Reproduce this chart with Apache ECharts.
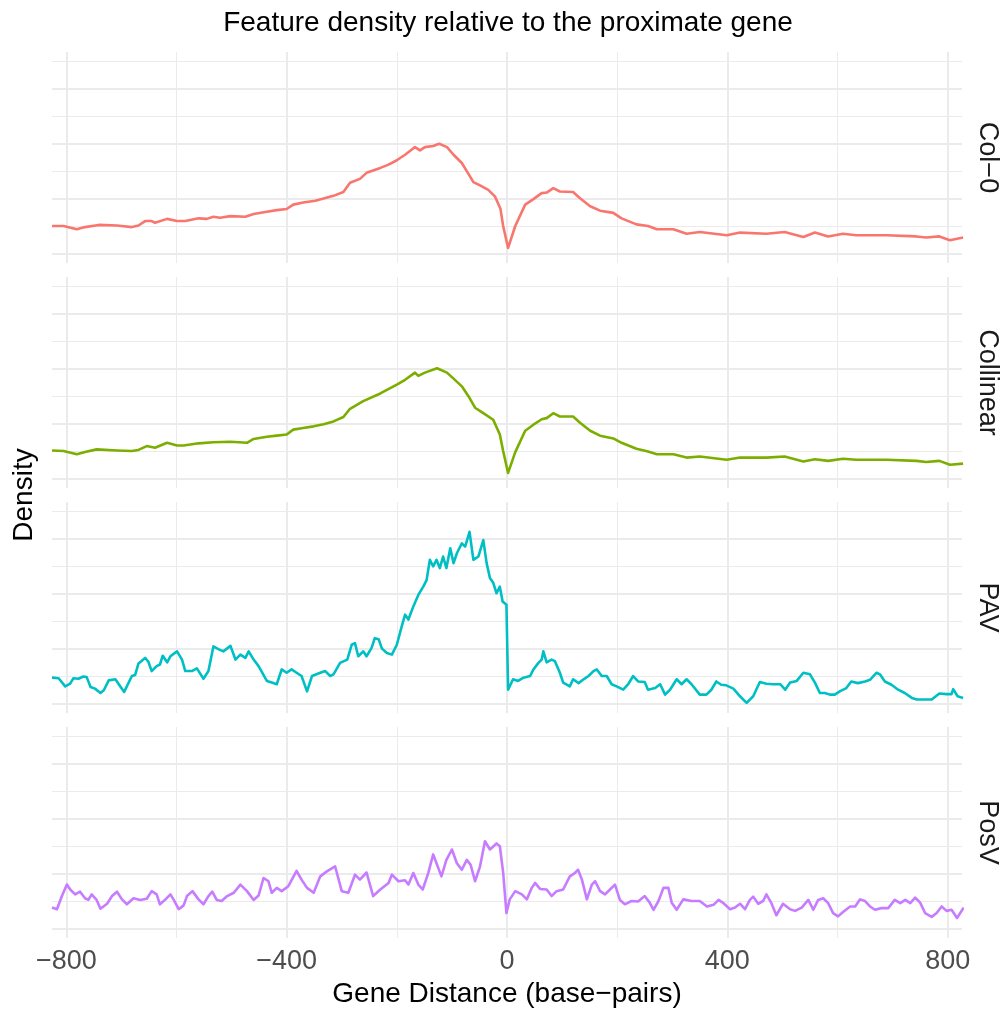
<!DOCTYPE html>
<html>
<head>
<meta charset="utf-8" />
<title>Feature density</title>
<style type="text/css">
html{height:100%}
body{height:100%;margin:0px;padding:0px;background:#fff}
#chart{width:1001px;height:1011px}
</style>
<script src="https://cdn.jsdelivr.net/npm/echarts@6/dist/echarts.min.js"></script>
</head>
<body>
<div id="chart"></div>
<script type="text/javascript">
// facets
var panelNames = ['Col−0', 'Collinear', 'PAV', 'PosV'];
var panelColors = ['#F8766D', '#7CAE00', '#00BFC4', '#C77CFF'];

// axis breaks
var xMajor = [-800, -400, 0, 400, 800];
var xMinor = [-600, -200, 200, 600];
var yMajor = [0, 1, 2, 3];
var yMinor = [0.5, 1.5, 2.5, 3.5];

// Col-0
var col0X = [-826,-805,-781,-766,-741,-708,-681,-669,-657,-645,-639,-617,-599,-584,-560,-545,-533,-521,-502,-475,-460,-436,-418,-400,-388,-370,-348,-333,-315,-297,-285,-267,-255,-230,-215,-200,-185,-167,-158,-149,-134,-123,-109,-97,-82,-73,-61,-49,-34,-22,-12,-7,2,15,33,48,63,72,84,96,120,132,151,169,193,208,235,256,272,302,326,350,399,423,471,504,538,559,583,610,634,689,743,761,785,804,828];
var col0Y = [0.50,0.50,0.44,0.48,0.52,0.51,0.48,0.51,0.59,0.59,0.56,0.63,0.59,0.59,0.64,0.63,0.67,0.65,0.68,0.67,0.72,0.76,0.79,0.81,0.89,0.93,0.96,1.00,1.05,1.12,1.29,1.36,1.47,1.56,1.62,1.70,1.80,1.94,1.88,1.94,1.96,2.00,1.94,1.80,1.65,1.50,1.30,1.24,1.16,1.04,0.82,0.50,0.10,0.50,0.89,0.99,1.10,1.11,1.19,1.13,1.12,1.01,0.86,0.78,0.74,0.64,0.53,0.50,0.44,0.44,0.36,0.39,0.33,0.38,0.36,0.39,0.30,0.38,0.31,0.36,0.33,0.33,0.31,0.29,0.31,0.24,0.29];

// Collinear
var collX = [-826,-805,-781,-766,-745,-708,-681,-669,-654,-639,-617,-599,-587,-560,-533,-502,-472,-460,-436,-418,-400,-388,-370,-351,-333,-315,-297,-285,-261,-230,-200,-185,-167,-161,-149,-127,-109,-97,-82,-70,-58,-43,-25,-13,-7,2,15,33,48,63,72,84,96,120,132,151,169,193,208,235,256,272,302,326,350,399,423,471,504,538,559,583,610,634,689,743,761,785,804,828];
var collY = [0.51,0.50,0.44,0.48,0.53,0.51,0.50,0.52,0.59,0.56,0.65,0.60,0.60,0.64,0.66,0.67,0.65,0.72,0.76,0.78,0.80,0.89,0.92,0.95,0.99,1.04,1.12,1.27,1.41,1.55,1.71,1.80,1.93,1.87,1.93,2.01,1.93,1.82,1.68,1.50,1.29,1.19,1.07,0.80,0.50,0.10,0.48,0.87,0.98,1.08,1.10,1.19,1.13,1.13,1.02,0.87,0.78,0.73,0.65,0.54,0.49,0.44,0.44,0.38,0.40,0.34,0.38,0.38,0.40,0.31,0.35,0.32,0.36,0.34,0.34,0.32,0.30,0.32,0.25,0.27];

// PAV
var pavX = [-826,-814,-802,-793,-787,-778,-769,-763,-756,-748,-738,-732,-723,-711,-702,-695,-681,-675,-669,-657,-651,-645,-636,-630,-625,-617,-611,-599,-590,-584,-572,-563,-551,-542,-533,-524,-515,-502,-493,-484,-475,-469,-460,-451,-436,-427,-418,-409,-400,-391,-382,-373,-363,-354,-339,-330,-321,-315,-303,-290,-282,-276,-270,-261,-255,-246,-240,-233,-227,-218,-209,-200,-191,-185,-179,-170,-161,-152,-146,-140,-134,-128,-122,-116,-110,-103,-97,-91,-82,-76,-68,-61,-52,-43,-37,-31,-25,-19,-13,-8,-1,2,11,20,30,42,48,57,63,66,72,81,87,96,102,114,120,130,139,148,157,163,172,181,190,199,211,220,229,238,250,256,269,278,287,296,308,317,326,335,350,362,371,380,389,398,411,423,435,447,459,471,484,496,505,514,526,538,550,559,568,577,586,595,604,616,625,637,650,659,671,677,686,698,710,722,735,744,756,771,785,798,807,810,818,828];
var pavY = [0.47,0.46,0.31,0.36,0.46,0.45,0.49,0.48,0.30,0.27,0.19,0.24,0.42,0.44,0.31,0.21,0.50,0.52,0.73,0.83,0.76,0.59,0.68,0.71,0.87,0.75,0.86,0.95,0.80,0.59,0.59,0.64,0.45,0.59,1.04,0.99,0.95,1.05,0.80,0.89,0.83,0.95,0.80,0.68,0.41,0.38,0.35,0.62,0.56,0.62,0.56,0.50,0.22,0.50,0.56,0.59,0.50,0.53,0.74,0.80,1.07,1.10,0.86,0.95,0.86,1.01,1.19,1.17,1.00,0.92,0.89,1.07,1.41,1.62,1.53,1.77,1.98,2.13,2.25,2.62,2.50,2.62,2.47,2.68,2.47,2.83,2.56,2.74,2.92,2.86,3.13,2.62,2.68,2.98,2.56,2.29,2.20,2.01,2.13,1.86,1.80,0.25,0.44,0.41,0.47,0.50,0.62,0.74,0.80,0.95,0.75,0.80,0.77,0.56,0.38,0.31,0.44,0.37,0.44,0.50,0.59,0.62,0.50,0.50,0.35,0.31,0.25,0.35,0.50,0.40,0.39,0.25,0.28,0.35,0.16,0.25,0.44,0.35,0.44,0.35,0.16,0.16,0.25,0.40,0.34,0.33,0.27,0.13,0.01,0.13,0.39,0.36,0.35,0.35,0.25,0.38,0.41,0.56,0.53,0.38,0.19,0.19,0.16,0.16,0.22,0.28,0.40,0.37,0.40,0.43,0.56,0.53,0.40,0.34,0.25,0.19,0.10,0.07,0.07,0.07,0.18,0.17,0.17,0.26,0.13,0.10];

// PosV
var posvX = [-826,-817,-808,-799,-793,-784,-775,-766,-760,-754,-745,-738,-726,-717,-708,-699,-690,-678,-666,-654,-645,-636,-630,-620,-611,-605,-596,-587,-581,-571,-560,-551,-542,-535,-527,-518,-508,-496,-484,-472,-460,-451,-442,-433,-427,-418,-409,-397,-382,-373,-363,-351,-339,-327,-312,-300,-288,-276,-267,-255,-243,-230,-215,-209,-197,-185,-179,-170,-161,-153,-143,-134,-128,-119,-110,-100,-91,-82,-73,-66,-58,-49,-40,-31,-19,-13,-7,-1,5,15,27,36,45,51,60,72,81,90,102,114,123,129,136,145,154,160,169,178,187,196,205,214,226,238,250,259,266,275,284,293,299,308,320,335,350,363,375,384,393,405,414,423,432,441,447,456,465,471,480,489,501,514,523,535,547,556,565,574,583,592,601,610,623,632,641,650,659,668,680,692,704,714,723,732,741,750,759,771,780,789,798,807,817,829];
var posvY = [0.38,0.35,0.59,0.80,0.71,0.62,0.67,0.55,0.52,0.62,0.52,0.36,0.45,0.59,0.67,0.53,0.44,0.55,0.52,0.54,0.68,0.62,0.44,0.53,0.62,0.52,0.35,0.42,0.59,0.68,0.53,0.44,0.59,0.67,0.52,0.50,0.59,0.65,0.80,0.68,0.52,0.60,0.92,0.86,0.65,0.74,0.68,0.77,1.05,0.89,0.74,0.65,0.95,1.04,1.13,0.68,0.65,0.98,0.89,1.02,0.59,0.71,0.83,0.98,0.86,0.88,0.80,1.01,0.80,0.71,1.01,1.35,1.19,0.95,1.25,1.44,1.19,1.07,1.25,1.16,0.86,1.13,1.59,1.44,1.55,1.50,1.02,0.28,0.53,0.68,0.62,0.53,0.74,0.83,0.72,0.71,0.59,0.68,0.71,0.95,1.01,1.07,0.89,0.53,0.80,0.86,0.68,0.62,0.71,0.80,0.52,0.44,0.50,0.49,0.59,0.47,0.34,0.50,0.74,0.74,0.47,0.34,0.53,0.50,0.50,0.40,0.43,0.52,0.46,0.35,0.38,0.45,0.35,0.52,0.58,0.45,0.50,0.62,0.46,0.24,0.45,0.35,0.32,0.38,0.52,0.34,0.52,0.55,0.46,0.28,0.22,0.30,0.40,0.40,0.53,0.50,0.40,0.34,0.37,0.37,0.52,0.46,0.52,0.46,0.56,0.47,0.28,0.21,0.28,0.40,0.32,0.34,0.19,0.38];

var seriesX = [col0X, collX, pavX, posvX];
var seriesY = [col0Y, collY, pavY, posvY];

var font = "'Liberation Sans', Arial, Helvetica, sans-serif";
var gridLeft = 52, gridWidth = 910, gridH = 211;
var gridTops = [52, 277, 502, 727];
var gridColor = '#EBEBEB';

var grids = [], xAxes = [], yAxes = [], series = [], graphics = [];

panelNames.forEach(function(name, i){
	grids.push({left: gridLeft, top: gridTops[i], width: gridWidth, height: gridH, containLabel: false});
	var last = i == panelNames.length - 1;
	xAxes.push({
		type: 'value', gridIndex: i, min: -826, max: 826,
		axisLine: {show: false}, axisTick: {show: false}, splitLine: {show: false},
		axisLabel: {
			show: last,
			customValues: xMajor,
			margin: 10,
			color: '#4D4D4D',
			fontSize: 27,
			fontFamily: font,
			formatter: function(v){ return String(v).replace('-', '\u2212'); }
		}
	});
	yAxes.push({
		type: 'value', gridIndex: i, min: -0.175, max: 3.675, show: false
	});

	// grid lines
	var lines = [];
	xMajor.forEach(function(v){ lines.push({xAxis: v, lineStyle: {color: gridColor, width: 2, type: 'solid'}}); });
	xMinor.forEach(function(v){ lines.push({xAxis: v, lineStyle: {color: gridColor, width: 1, type: 'solid'}}); });
	yMajor.forEach(function(v){ lines.push({yAxis: v, lineStyle: {color: gridColor, width: 2, type: 'solid'}}); });
	yMinor.forEach(function(v){ lines.push({yAxis: v, lineStyle: {color: gridColor, width: 1, type: 'solid'}}); });
	series.push({
		type: 'line', xAxisIndex: i, yAxisIndex: i, data: [], silent: true, z: 1,
		markLine: {silent: true, z: 1, symbol: ['none', 'none'], label: {show: false}, emphasis: {disabled: true}, animation: false, data: lines}
	});

	var pts = seriesX[i].map(function(x, k){ return [x, seriesY[i][k]]; });
	series.push({
		name: name, type: 'line', xAxisIndex: i, yAxisIndex: i, z: 3,
		data: pts, showSymbol: false, smooth: false,
		lineStyle: {color: panelColors[i], width: 2.6, join: 'round'},
		itemStyle: {color: panelColors[i]}
	});

	// strip label
	graphics.push({
		type: 'text', x: 987, y: gridTops[i] + gridH / 2, rotation: -Math.PI / 2,
		style: {text: name, fontSize: 27, fontFamily: font, fill: '#1A1A1A', align: 'center', verticalAlign: 'middle'}
	});
});

graphics.push({
	type: 'text', x: 508, y: 23,
	style: {text: 'Feature density relative to the proximate gene', fontSize: 28, fontFamily: font, fill: '#000', align: 'center', verticalAlign: 'middle'}
});
graphics.push({
	type: 'text', x: 507, y: 994,
	style: {text: 'Gene Distance (base\u2212pairs)', fontSize: 28, fontFamily: font, fill: '#000', align: 'center', verticalAlign: 'middle'}
});
graphics.push({
	type: 'text', x: 24, y: 495, rotation: Math.PI / 2,
	style: {text: 'Density', fontSize: 28, fontFamily: font, fill: '#000', align: 'center', verticalAlign: 'middle'}
});

var chart = echarts.init(document.getElementById('chart'));
chart.setOption({
	animation: false,
	backgroundColor: '#fff',
	grid: grids,
	xAxis: xAxes,
	yAxis: yAxes,
	series: series,
	graphic: graphics
});
</script>
</body>
</html>
